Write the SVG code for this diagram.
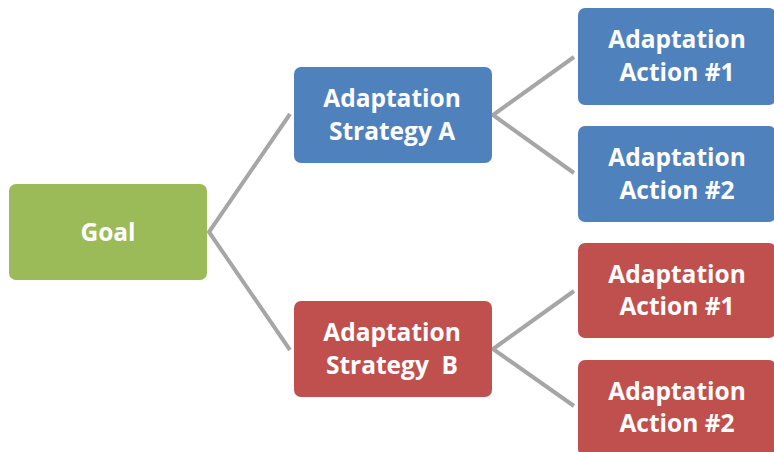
<svg xmlns="http://www.w3.org/2000/svg" width="774" height="452" viewBox="0 0 774 452">
<style>
.box{stroke:none}
.g{fill:#9BBB59}.b{fill:#4F81BD}.r{fill:#C0504D}
text{font-family:"Open Sans","Liberation Sans",sans-serif;font-weight:bold;font-size:24.5px;fill:#fff;text-anchor:middle}
.conn line,.conn polyline{stroke:#A6A6A6;stroke-width:4;fill:none}
</style>
<rect width="774" height="452" fill="#fff"/>
<g class="conn" id="connectors">
<polyline points="290,114 209,232 290,350"/>
<polyline points="574,57 493,115 574,173"/>
<polyline points="574,291 493,349 574,406"/>
</g>
<g id="goal"><rect class="box g" x="9" y="184" width="198" height="96" rx="7"/><text x="108" y="241">Goal</text></g>
<g id="strategyA"><rect class="box b" x="294" y="67" width="198" height="96" rx="7"/><text x="392" y="107">Adaptation</text><text x="392" y="140">Strategy A</text></g>
<g id="strategyB"><rect class="box r" x="294" y="301" width="198" height="96" rx="7"/><text x="392" y="341">Adaptation</text><text x="392" y="374" xml:space="preserve">Strategy  B</text></g>
<g id="actionA1"><rect class="box b" x="578" y="8" width="198" height="97" rx="7"/><text x="677" y="48">Adaptation</text><text x="677" y="81">Action #1</text></g>
<g id="actionA2"><rect class="box b" x="578" y="126" width="198" height="96" rx="7"/><text x="677" y="166">Adaptation</text><text x="677" y="199">Action #2</text></g>
<g id="actionB1"><rect class="box r" x="578" y="243" width="198" height="95" rx="7"/><text x="677" y="283">Adaptation</text><text x="677" y="315">Action #1</text></g>
<g id="actionB2"><rect class="box r" x="578" y="360" width="198" height="96" rx="7"/><text x="677" y="400">Adaptation</text><text x="677" y="432">Action #2</text></g>
</svg>
